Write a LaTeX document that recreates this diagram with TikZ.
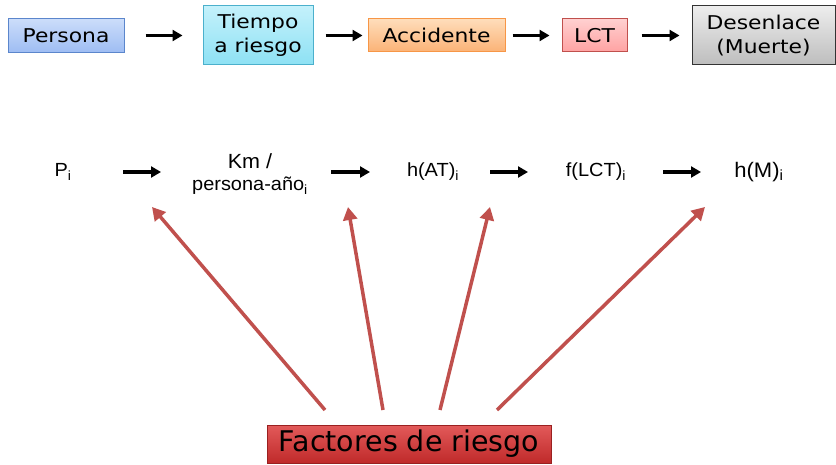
\documentclass[tikz,border=0pt]{standalone}
\usepackage{fontspec}
\setmainfont[FakeStretch=1.05]{Liberation Sans}
\newfontfamily\boxfont[FakeStretch=1.15]{DejaVu Sans}
\newfontfamily\frfont{DejaVu Sans}
\usetikzlibrary{arrows.meta}
\definecolor{perTop}{HTML}{CCDDFA}
\definecolor{perBot}{HTML}{9EBDF3}
\definecolor{perDraw}{HTML}{5B86CC}
\definecolor{tieTop}{HTML}{C4F1FB}
\definecolor{tieBot}{HTML}{8DE1F4}
\definecolor{tieDraw}{HTML}{4BB0CC}
\definecolor{accTop}{HTML}{FEDDBA}
\definecolor{accBot}{HTML}{FBB276}
\definecolor{accDraw}{HTML}{F79646}
\definecolor{lctTop}{HTML}{FFD0D0}
\definecolor{lctBot}{HTML}{FFA2A2}
\definecolor{lctDraw}{HTML}{C0504D}
\definecolor{desTop}{HTML}{EDEDED}
\definecolor{desBot}{HTML}{BDBDBD}
\definecolor{desDraw}{HTML}{333333}
\definecolor{frTop}{HTML}{E25A5A}
\definecolor{frBot}{HTML}{C02A2A}
\definecolor{frDraw}{HTML}{9A2020}
\definecolor{redArrow}{HTML}{C0504D}
\begin{document}
\begin{tikzpicture}[x=1pt,y=1pt,
  topbox/.style={draw, line width=1pt, inner sep=0pt, align=center,
    font=\boxfont\fontsize{19}{24}\selectfont},
  midtext/.style={inner sep=0pt, align=center, font=\fontsize{19}{22}\selectfont},
  blackarrow/.style={line width=3.5pt, -{Triangle[length=10pt,width=11pt]}},
  redarrow/.style={draw=redArrow, line width=3.5pt, -{Triangle[length=13pt,width=14pt]}, redArrow},
]
\useasboundingbox (0,0) rectangle (836,-465);
% top row
\node[topbox, draw=perDraw, top color=perTop, bottom color=perBot,
  minimum width=116pt, minimum height=34pt] (per) at (66,-35.5) {Persona};
\node[topbox, draw=tieDraw, top color=tieTop, bottom color=tieBot,
  minimum width=110pt, minimum height=59pt] (tie) at (258,-35.5) {Tiempo\\a riesgo};
\node[topbox, draw=accDraw, top color=accTop, bottom color=accBot,
  minimum width=137pt, minimum height=33pt] (acc) at (436.5,-35.5) {Accidente};
\node[topbox, draw=lctDraw, top color=lctTop, bottom color=lctBot,
  minimum width=65pt, minimum height=33pt] (lct) at (594.5,-35.5) {LCT};
\node[topbox, draw=desDraw, top color=desTop, bottom color=desBot,
  minimum width=143pt, minimum height=59pt] (des) at (763.5,-35.5) {Desenlace\\(Muerte)};
\draw[blackarrow, shorten <=21pt, shorten >=20pt] (per) -- (tie);
\draw[blackarrow, shorten <=12pt, shorten >=5pt] (tie) -- (acc);
\draw[blackarrow, shorten <=7pt, shorten >=12pt] (acc) -- (lct);
\draw[blackarrow, shorten <=14pt, shorten >=12pt] (lct) -- (des);
% middle row
\node[midtext] (pi) at (63,-172) {P\textsubscript{i}};
\node[midtext] (km) at (250,-174) {{\fontsize{20.5}{25}\selectfont Km /}\\{\fontsize{19}{22}\selectfont persona-año\textsubscript{i}}};
\node[midtext] (hat) at (433,-172) {h(AT)\textsubscript{i}};
\node[midtext] (flct) at (596,-172) {f(LCT)\textsubscript{i}};
\node[midtext, font=\fontsize{21}{24}\selectfont] (hm) at (759,-172) {h(M)\textsubscript{i}};
\draw[blackarrow, shorten <=60pt, shorten >=89pt] (pi.center) -- (km.center |- pi.center);
\draw[blackarrow, shorten <=81pt, shorten >=63pt] (km.center |- hat.center) -- (hat.center);
\draw[blackarrow, shorten <=57pt, shorten >=68pt] (hat.center) -- (flct.center);
\draw[blackarrow, shorten <=67pt, shorten >=58pt] (flct.center) -- (hm.center);
% risk factors
\node[draw=frDraw, line width=1pt, top color=frTop, bottom color=frBot,
  minimum width=284pt, minimum height=38pt, inner sep=0pt,
  font=\frfont\fontsize{28.5}{30}\selectfont] (fr) at (409,-444) {Factores de riesgo};
\coordinate (s1) at (325,-410);
\coordinate (s2) at (383,-410);
\coordinate (s3) at (440,-410);
\coordinate (s4) at (497,-410);
\coordinate (e1) at (152,-207);
\coordinate (e2) at (348,-207);
\coordinate (e3) at (490,-207);
\coordinate (e4) at (705,-207);
\draw[redarrow] (s1) -- (e1);
\draw[redarrow] (s2) -- (e2);
\draw[redarrow] (s3) -- (e3);
\draw[redarrow] (s4) -- (e4);
\end{tikzpicture}
\end{document}
